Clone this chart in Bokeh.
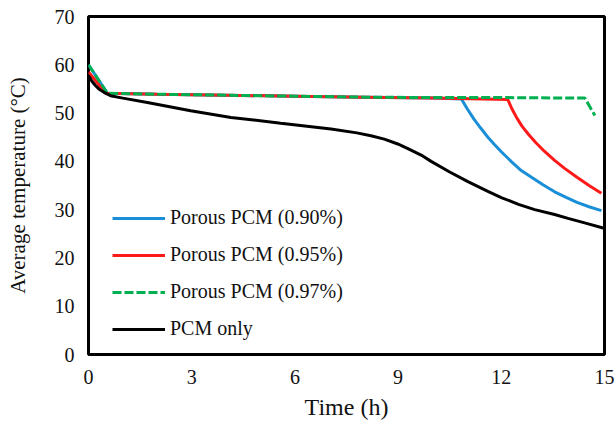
from bokeh.plotting import figure
from bokeh.models import Legend, LegendItem, FixedTicker
from bokeh.embed import file_html
from bokeh.resources import INLINE

# Average temperature (°C) versus time (h)
t_090 = [0.0, 0.55, 2.0, 4.0, 6.0, 8.0, 10.0, 10.84, 11.0, 11.2, 11.4, 11.61, 11.8, 12.0,
         12.3, 12.58, 12.9, 13.2, 13.55, 13.9, 14.2, 14.55, 14.91]
T_090 = [60.0, 54.1, 53.9, 53.7, 53.5, 53.3, 53.1, 52.9, 51.0, 48.8, 46.9, 45.0, 43.5, 42.0,
         39.9, 38.1, 36.6, 35.2, 33.7, 32.5, 31.5, 30.6, 29.8]

t_095 = [0.0, 0.5, 2.0, 4.0, 6.0, 8.0, 10.0, 12.19, 12.3, 12.45, 12.6, 12.8, 13.0, 13.25,
         13.55, 13.85, 14.2, 14.55, 14.91]
T_095 = [58.5, 54.1, 53.9, 53.7, 53.5, 53.3, 53.1, 52.8, 51.0, 49.0, 47.3, 45.5, 43.9, 42.1,
         40.2, 38.5, 36.7, 35.0, 33.4]

t_097 = [0.0, 0.55, 2.0, 4.0, 6.0, 8.0, 10.0, 12.2, 14.43, 14.72]
T_097 = [60.0, 54.1, 53.9, 53.7, 53.5, 53.3, 53.2, 53.2, 53.1, 49.5]

t_pcm = [0.0, 0.1, 0.2, 0.3, 0.45, 0.64, 1.0, 1.71, 2.97, 4.14, 5.59, 7.05, 7.8, 8.21, 8.6, 8.99,
         9.3, 9.67, 9.96, 10.5, 11.03, 11.61, 12.0, 12.5, 12.97, 13.55, 13.94, 14.45, 14.96]
T_pcm = [57.8, 56.6, 55.7, 55.0, 54.3, 53.6, 53.1, 52.2, 50.5, 49.1, 47.9, 46.7, 45.9, 45.3, 44.6, 43.6,
         42.6, 41.3, 40.0, 37.8, 35.8, 33.8, 32.5, 31.1, 30.0, 29.0, 28.2, 27.2, 26.2]

labels = ["Porous PCM (0.90%)", "Porous PCM (0.95%)", "Porous PCM (0.97%)", "PCM only"]
x_ticks = [0, 3, 6, 9, 12, 15]
y_ticks = [0, 10, 20, 30, 40, 50, 60, 70]

FONT = "Liberation Serif"

p = figure(width=615, height=422, x_range=(0, 15), y_range=(0, 70),
           output_backend="svg", toolbar_location=None,
           min_border_left=88, min_border_right=11, min_border_top=16, min_border_bottom=68)

p.xgrid.visible = False
p.ygrid.visible = False
p.outline_line_color = "black"
p.outline_line_width = 3
p.outline_line_alpha = 1.0

for ax in (p.xaxis[0], p.yaxis[0]):
    ax.axis_line_color = None
    ax.major_tick_line_color = None
    ax.minor_tick_line_color = None
    ax.major_tick_out = 0
    ax.major_tick_in = 0
    ax.major_label_text_font = FONT
    ax.major_label_text_font_size = "20px"
    ax.major_label_text_color = "#111111"
    ax.axis_label_text_font = FONT
    ax.axis_label_text_font_style = "normal"
    ax.axis_label_text_color = "#111111"

p.xaxis.ticker = FixedTicker(ticks=x_ticks)
p.yaxis.ticker = FixedTicker(ticks=y_ticks)
p.xaxis.major_label_standoff = 15
p.yaxis.major_label_standoff = 14
p.xaxis.axis_label = "Time (h)"
p.yaxis.axis_label = "Average temperature (°C)"
p.xaxis.axis_label_text_font_size = "24px"
p.yaxis.axis_label_text_font_size = "21px"
p.xaxis.axis_label_standoff = 7
p.yaxis.axis_label_standoff = 22

r_blue = p.line(t_090, T_090, line_color="#1a8fd8", line_width=3)
r_red = p.line(t_095, T_095, line_color="#ff1a1a", line_width=3)
r_green = p.line(t_097, T_097, line_color="#00b050", line_width=3, line_dash="9 3")
r_black = p.line(t_pcm, T_pcm, line_color="black", line_width=3)

legend = Legend(items=[LegendItem(label=labels[0], renderers=[r_blue]),
                       LegendItem(label=labels[1], renderers=[r_red]),
                       LegendItem(label=labels[2], renderers=[r_green]),
                       LegendItem(label=labels[3], renderers=[r_black])],
                location=(24, 14), orientation="vertical",
                label_text_font=FONT, label_text_font_size="20px", label_text_color="#111111",
                glyph_width=53, glyph_height=20, label_standoff=5, spacing=14,
                padding=0, margin=0, background_fill_alpha=0, border_line_alpha=0)
p.add_layout(legend, "center")

open("out.html", "w").write(file_html(p, INLINE))
